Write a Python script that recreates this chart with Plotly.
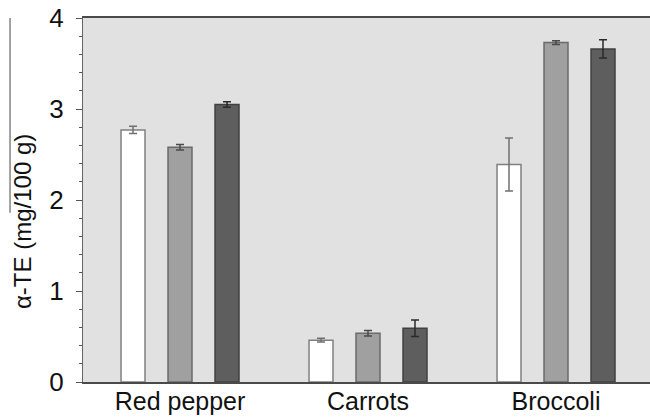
import plotly.graph_objects as go

# Tocopherol content by vegetable and treatment
categories = ["Red pepper", "Carrots", "Broccoli"]
series_names = ["Raw", "Treatment A", "Treatment B"]
values = [
    [2.77, 0.46, 2.39],
    [2.58, 0.535, 3.73],
    [3.05, 0.59, 3.66],
]
errors = [
    [0.04, 0.02, 0.29],
    [0.03, 0.03, 0.02],
    [0.03, 0.09, 0.10],
]
y_ticks = [0, 1, 2, 3, 4]

fill_colors = ["#ffffff", "#a0a0a0", "#5e5e5e"]
line_colors = ["#808080", "#6a6a6a", "#404040"]
err_colors = ["#707070", "#4a4a4a", "#2a2a2a"]

fig = go.Figure()
for i, name in enumerate(series_names):
    fig.add_trace(go.Bar(
        name=name,
        x=categories,
        y=values[i],
        marker=dict(color=fill_colors[i], line=dict(color=line_colors[i], width=1.5)),
        error_y=dict(type="data", array=errors[i], visible=True,
                     color=err_colors[i], thickness=1.5, width=4),
    ))

fig.update_layout(
    width=650, height=418,
    margin=dict(l=83, r=0, t=18, b=36),
    paper_bgcolor="white",
    plot_bgcolor="#e1e1e1",
    barmode="group",
    bargap=0.25,
    bargroupgap=0.49,
    showlegend=False,
    font=dict(family="Liberation Sans, Arial, sans-serif", color="#111111"),
)

fig.update_xaxes(
    range=[-0.516, 2.5],
    automargin=False,
    showline=True, linecolor="#4a4a4a", linewidth=1.8, mirror=True,
    ticks="", showgrid=False,
    tickfont=dict(size=25),
    ticklabelstandoff=-4,
)
fig.update_yaxes(
    range=[0, 4],
    automargin=False,
    tickvals=y_ticks,
    showline=True, linecolor="#666666", linewidth=1.2,
    ticks="outside", ticklen=6, tickcolor="#555555", tickwidth=1.2,
    minor=dict(dtick=0.2, ticks="outside", ticklen=3, tickcolor="#555555", tickwidth=1),
    showgrid=False, zeroline=False,
    tickfont=dict(size=26),
    ticklabelstandoff=7,
)

# Y-axis title placed as a rotated annotation
fig.add_annotation(
    text="α-TE (mg/100 g)", textangle=-90, showarrow=False,
    xref="paper", yref="paper",
    x=(22 - 83) / 567, y=(382 - 222) / 364,
    xanchor="center", yanchor="middle",
    font=dict(size=24, color="#111111"),
)

# Thin rule at the far left edge of the panel
fig.add_shape(type="line", xref="paper", yref="y",
              x0=-0.1287, x1=-0.1287, y0=1.86, y1=4.3,
              line=dict(color="#666666", width=1.2))

fig.write_html("out.html")
